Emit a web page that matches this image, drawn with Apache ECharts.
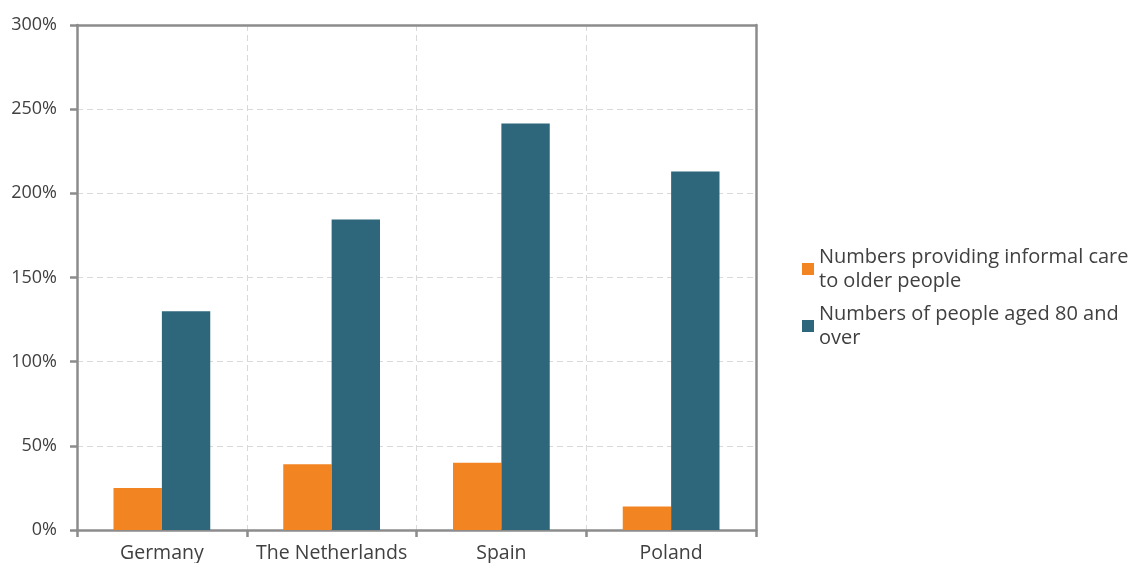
<!DOCTYPE html>
<html><head><meta charset="utf-8">
<script src="https://cdn.jsdelivr.net/npm/echarts@6/dist/echarts.min.js"></script>
<style>html,body{margin:0;padding:0;background:#fff}#c{width:1134px;height:563px}</style>
</head><body><div id="c"></div>
<script>
const categories = ['Germany', 'The Netherlands', 'Spain', 'Poland'];
const seriesNames = ['Numbers providing informal care to older people', 'Numbers of people aged 80 and over'];
const informalCare = [25, 39, 40, 14];
const aged80 = [130, 184.5, 241.5, 213];
const yTicks = [0, 50, 100, 150, 200, 250, 300];

const axisColor = '#8c8c8c';
const textColor = '#404040';
const font = "'Open Sans', sans-serif";
const frameAxis = { show: true, axisLine: { show: true, onZero: false, lineStyle: { color: axisColor, width: 2.5 } }, axisTick: { show: false }, axisLabel: { show: false }, splitLine: { show: false } };
const chart = echarts.init(document.getElementById('c'));
chart.setOption({
  animation: false,
  grid: { left: 77, right: 378, top: 25, bottom: 33 },
  legend: {
    orient: 'vertical', left: 802, top: 233, padding: 0,
    itemWidth: 12, itemHeight: 12, itemGap: -15,
    icon: 'rect',
    textStyle: { fontFamily: font, fontSize: 20, color: textColor, width: 318, overflow: 'break', lineHeight: 24, padding: [24, 0, 0, 0] },
    data: seriesNames
  },
  xAxis: [{
    type: 'category', data: categories,
    axisLine: { lineStyle: { color: axisColor, width: 2.5 } },
    axisTick: { show: true, interval: 0, length: 7, lineStyle: { color: axisColor, width: 2.5 } },
    axisLabel: { interval: 0, fontFamily: font, fontSize: 19.5, color: textColor, margin: 13 },
    splitLine: { show: true, interval: 0, lineStyle: { color: '#d9d9d9', type: [6, 4], width: 1 } }
  }, Object.assign({ type: 'category', data: categories, position: 'top' }, frameAxis)],
  yAxis: [{
    type: 'value', min: yTicks[0], max: yTicks[yTicks.length - 1], interval: 50,
    axisLine: { show: true, lineStyle: { color: axisColor, width: 2.5 } },
    axisTick: { show: true, length: 7, lineStyle: { color: axisColor, width: 2.5 } },
    axisLabel: { fontFamily: font, fontSize: 18, color: textColor, margin: 20, formatter: v => v + '%' },
    splitLine: { show: true, lineStyle: { color: '#d9d9d9', type: [6, 4], width: 1 } }
  }, Object.assign({ type: 'value', min: yTicks[0], max: yTicks[yTicks.length - 1], interval: 50, position: 'right' }, frameAxis)],
  series: [
    { name: seriesNames[0], type: 'bar', data: informalCare, barWidth: '28.5%', barGap: '0%', itemStyle: { color: '#F28522' } },
    { name: seriesNames[1], type: 'bar', data: aged80, barWidth: '28.5%', barGap: '0%', itemStyle: { color: '#2E677C' } }
  ]
});
</script></body></html>
